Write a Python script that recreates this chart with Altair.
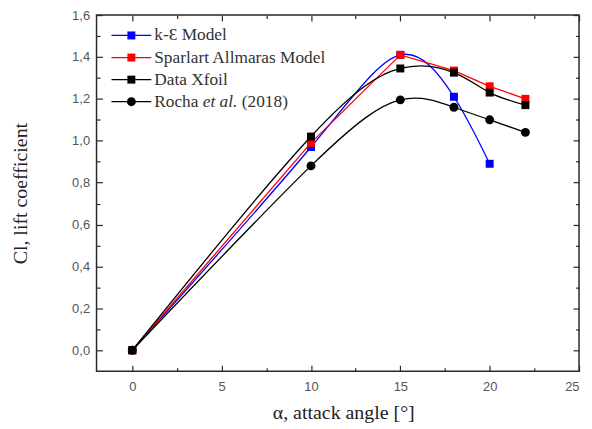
import altair as alt
import pandas as pd

# ---------------- data ----------------
alpha_ke = [0, 10, 15, 18, 20]
cl_ke = [0.0, 0.97, 1.41, 1.21, 0.89]

alpha_sa = [0, 10, 15, 18, 20, 22]
cl_sa = [0.0, 0.99, 1.41, 1.335, 1.26, 1.20]

alpha_xf = [0, 10, 15, 18, 20, 22]
cl_xf = [0.0, 1.02, 1.345, 1.325, 1.23, 1.17]

alpha_ro = [0, 10, 15, 18, 20, 22]
cl_ro = [0.0, 0.88, 1.195, 1.16, 1.10, 1.04]

series_names = ["k-Ɛ Model", "Sparlart Allmaras Model", "Data Xfoil", "Rocha et al. (2018)"]
series_colors = ["#0000ff", "#ff0000", "#000000", "#000000"]
series_shapes = ["square", "square", "square", "circle"]
series_interp = ["natural", "linear", "natural", "natural"]

x_major = [0, 5, 10, 15, 20, 25]
x_minor = [2.5, 7.5, 12.5, 17.5, 22.5]
y_major = [0.0, 0.2, 0.4, 0.6, 0.8, 1.0, 1.2, 1.4, 1.6]
y_minor = [0.1, 0.3, 0.5, 0.7, 0.9, 1.1, 1.3, 1.5]

x_title = "α, attack angle [°]"
y_title = "Cl, lift coefficient"

# ---------------- layout ----------------
W, H = 485, 358
SERIF = "Liberation Serif"
SANS = "Liberation Sans"
FRAME = "#2a2a2a"

xs = alt.Scale(domain=[-2, 25], nice=False, zero=False)
ys = alt.Scale(domain=[-0.1, 1.6], nice=False, zero=False)

frames = []
for name, a, c in zip(series_names,
                      [alpha_ke, alpha_sa, alpha_xf, alpha_ro],
                      [cl_ke, cl_sa, cl_xf, cl_ro]):
    frames.append(pd.DataFrame({"alpha": a, "cl": c, "series": name}))
df_all = pd.concat(frames, ignore_index=True)

layers = []

# series
for df, col, shp, interp in zip(frames, series_colors, series_shapes, series_interp):
    base = alt.Chart(df).encode(
        x=alt.X("alpha:Q", scale=xs, axis=None),
        y=alt.Y("cl:Q", scale=ys, axis=None),
    )
    layers.append(base.mark_line(color=col, strokeWidth=1.3, interpolate=interp))
    size = 80 if shp == "circle" else 64
    layers.append(base.mark_point(shape=shp, filled=True, color=col, size=size, opacity=1))


def axis_layer(xaxis, yaxis):
    return alt.Chart(df_all).mark_point(opacity=0).encode(
        x=alt.X("alpha:Q", scale=xs, axis=xaxis),
        y=alt.Y("cl:Q", scale=ys, axis=yaxis),
    )


common = dict(grid=False, domain=False, tickColor=FRAME, tickWidth=1.2)

# labelled axes (no ticks)
layers.append(axis_layer(
    alt.Axis(orient="bottom", values=x_major, ticks=False, labelPadding=9,
             labelFont=SANS, labelFontSize=13, labelColor="#555555",
             title=x_title, titleFont=SERIF, titleFontSize=20, titleFontWeight="normal",
             titleColor="#222222", titleX=248, titleY=48, titleBaseline="alphabetic",
             grid=False, domain=False),
    alt.Axis(orient="left", values=y_major, ticks=False, labelPadding=7,
             format=".1f", labelExpr="replace(datum.label, '.', ',')",
             labelFont=SANS, labelFontSize=13, labelColor="#555555",
             title=y_title, titleFont=SERIF, titleFontSize=20, titleFontWeight="normal",
             titleColor="#222222", titleX=-70, titleY=H / 2, titleAngle=-90,
             titleBaseline="alphabetic", titleAlign="center",
             grid=False, domain=False),
))

# inward ticks on bottom / left edges
layers.append(axis_layer(
    alt.Axis(orient="top", offset=-H, values=x_major, tickSize=6, labels=False, title="", **common),
    alt.Axis(orient="right", offset=-W, values=y_major, tickSize=6, labels=False, title="", **common),
))
layers.append(axis_layer(
    alt.Axis(orient="top", offset=-H, values=x_minor, tickSize=3.5, labels=False, title="", **common),
    alt.Axis(orient="right", offset=-W, values=y_minor, tickSize=3.5, labels=False, title="", **common),
))
# inward ticks on top / right edges
layers.append(axis_layer(
    alt.Axis(orient="bottom", offset=-H, values=x_major, tickSize=6, labels=False, title="", **common),
    alt.Axis(orient="left", offset=-W, values=y_major, tickSize=6, labels=False, title="", **common),
))
layers.append(axis_layer(
    alt.Axis(orient="bottom", offset=-H, values=x_minor, tickSize=3.5, labels=False, title="", **common),
    alt.Axis(orient="left", offset=-W, values=y_minor, tickSize=3.5, labels=False, title="", **common),
))

# ---------------- legend (manual, to allow the italic "et al.") ----------------
LEG_X0, LEG_X1, LEG_XM, LEG_XT = 15, 55, 35, 58
LEG_Y0, LEG_DY = 20.5, 22.2
LEG_FS = 17.4
legend_texts = [
    [("k-Ɛ Model", "normal", 0)],
    [("Sparlart Allmaras Model", "normal", 0)],
    [("Data Xfoil", "normal", 0)],
    [("Rocha", "normal", 0), ("et al.", "italic", 48.8), ("(2018)", "normal", 88)],
]
for i, (col, shp) in enumerate(zip(series_colors, series_shapes)):
    yy = LEG_Y0 + i * LEG_DY
    one = alt.Chart(pd.DataFrame({"k": [0]}))
    layers.append(one.mark_rule(color=col, strokeWidth=1.3).encode(
        x=alt.value(LEG_X0), x2=alt.value(LEG_X1), y=alt.value(yy)))
    size = 80 if shp == "circle" else 64
    layers.append(one.mark_point(shape=shp, filled=True, color=col, size=size, opacity=1).encode(
        x=alt.value(LEG_XM), y=alt.value(yy)))
    for txt, style, off in legend_texts[i]:
        layers.append(alt.Chart(pd.DataFrame({"t": [txt]})).mark_text(
            align="left", baseline="middle", font=SERIF, fontSize=LEG_FS,
            fontStyle=style, color="#333333", dx=off,
        ).encode(x=alt.value(LEG_XT), y=alt.value(yy), text="t:N"))

chart = (
    alt.layer(*layers)
    .resolve_axis(x="independent", y="independent")
    .properties(
        width=W, height=H,
        padding={"left": 89, "top": 6, "right": 5, "bottom": 55},
        autosize=alt.AutoSizeParams(type="none"),
    )
    .configure_view(stroke=FRAME, strokeWidth=1.5)
)

chart.save("out.html", embed_options={"renderer": "svg", "actions": False})
